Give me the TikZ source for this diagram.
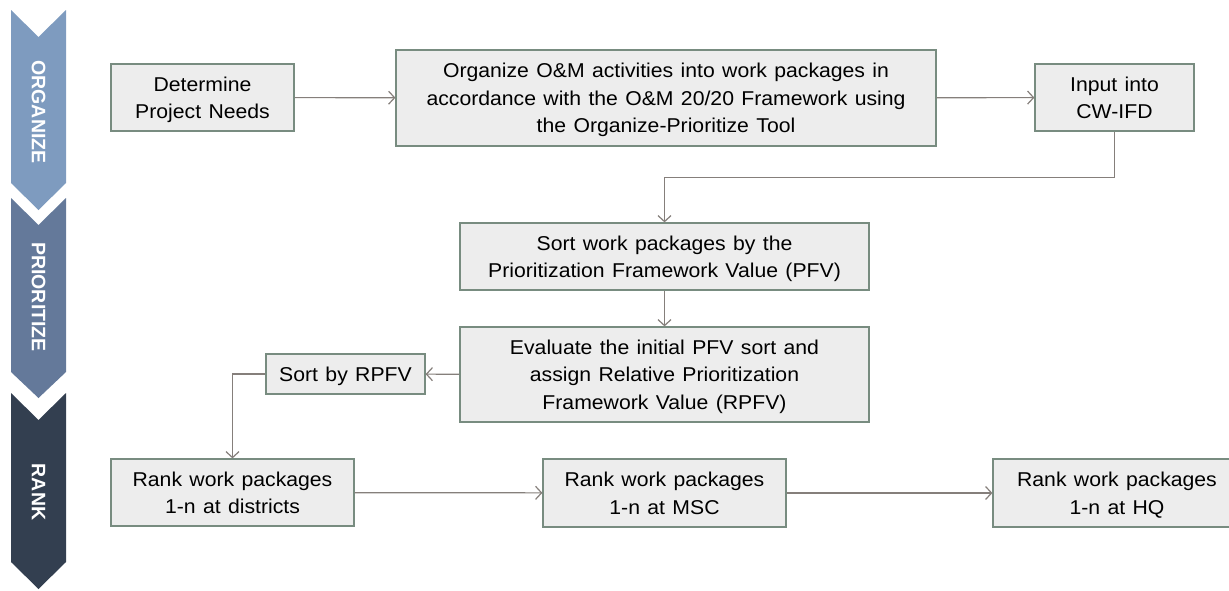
\documentclass[tikz,border=0pt]{standalone}
\usepackage{fontspec}
\setmainfont{Liberation Sans}
\newfontfamily\boitefont[FakeStretch=1.06, WordSpace=1.25]{Liberation Sans}
\usetikzlibrary{arrows.meta}
\definecolor{bleuclair}{HTML}{7E9BBF}
\definecolor{bleumoyen}{HTML}{64799A}
\definecolor{bleufonce}{HTML}{333F50}
\definecolor{fondboite}{HTML}{EDEDED}
\definecolor{bordboite}{HTML}{788C80}
\definecolor{trait}{HTML}{857F7B}

\begin{document}
\begin{tikzpicture}[x=1pt, y=-1pt,
    boite/.style={draw=bordboite, fill=fondboite, line width=1.2pt, inner sep=0pt, align=center,
      text depth=0pt, font=\boitefont\fontsize{20}{27.5}\selectfont},
    etape/.style={text=white, rotate=-90, font=\fontsize{19.5}{24}\selectfont\bfseries},
    fleche/.style={draw=trait, line width=1.2pt, -{Straight Barb[length=6pt,width=13pt]}}]
    \useasboundingbox (0,0) rectangle (1229,590);
    % Bandeau
    \fill[bleuclair] (11,10) -- (38.5,37) -- (66,10) -- (66,183) -- (38.5,210) -- (11,183) -- cycle;
    \fill[bleumoyen] (11,198) -- (38.5,225) -- (66,198) -- (66,372) -- (38.5,398) -- (11,372) -- cycle;
    \fill[bleufonce] (11,393) -- (38.5,420) -- (66,393) -- (66,562) -- (38.5,589) -- (11,562) -- cycle;
    \node[etape] at (38.5,112) (org) {ORGANIZE};
    \node[etape] at (38.5,297) (prio) {PRIORITIZE};
    \node[etape] at (38.5,492) (rang) {RANK};
    % Boites
    \node[boite, minimum width=183pt, minimum height=67pt] at (202.5,97.5) (besoins) {Determine\\Project Needs};
    \node[boite, minimum width=540pt, minimum height=96pt] at (666,98) (organiser) {Organize O\&M activities into work packages in\\accordance with the O\&M 20/20 Framework using\\the Organize-Prioritize Tool};
    \node[boite, minimum width=159pt, minimum height=67pt] at (1114.5,97.5) (saisie) {Input into\\CW-IFD};
    \node[boite, minimum width=409pt, minimum height=67pt] at (664.5,256.5) (tri) {Sort work packages by the\\Prioritization Framework Value (PFV)};
    \node[boite, minimum width=409pt, minimum height=95pt] at (664.5,374.5) (evaluer) {Evaluate the initial PFV sort and\\assign Relative Prioritization\\Framework Value (RPFV)};
    \node[boite, minimum width=159pt, minimum height=40pt] at (345.5,374) (trirpfv) {Sort by RPFV};
    \node[boite, minimum width=243pt, minimum height=67pt] at (232.5,492.5) (district) {Rank work packages\\1-n at districts};
    \node[boite, minimum width=243pt, minimum height=68pt] at (664.5,493) (msc) {Rank work packages\\1-n at MSC};
    \node[boite, minimum width=248pt, minimum height=68pt] at (1117,493) (hq) {Rank work packages\\1-n at HQ};
    % Fleches
    \draw[fleche] (besoins) -- (organiser);
    \draw[fleche] (organiser) -- (saisie);
    \draw[fleche] (saisie.south) -- ++(0,46) -| (tri.north);
    \draw[fleche] (tri) -- (evaluer);
    \draw[fleche] (evaluer) -- (trirpfv);
    \draw[fleche] (trirpfv.west) -| (district.north);
    \draw[fleche] (district) -- (msc);
    \draw[fleche] (msc) -- (hq);
  \end{tikzpicture}
\end{document}
